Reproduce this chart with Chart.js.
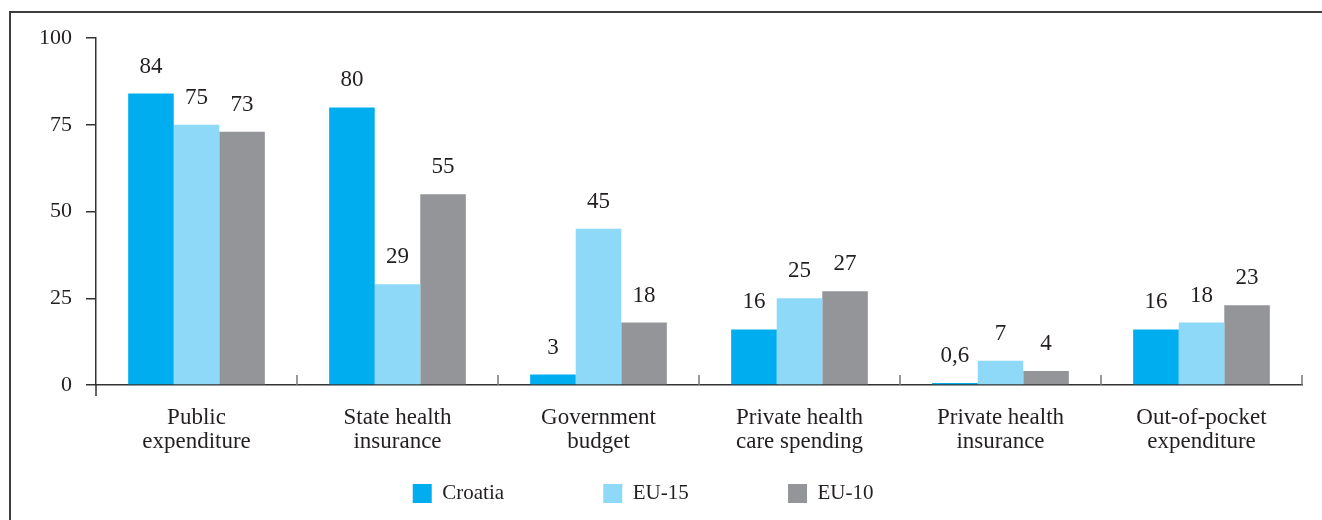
<!DOCTYPE html>
<html>
<head>
<meta charset="utf-8">
<script src="https://cdn.jsdelivr.net/npm/chart.js@4"></script>
<style>
html, body { margin: 0; padding: 0; background: #fff; overflow: hidden; }
#wrap { position: relative; width: 1322px; height: 520px; }
#frame { position: absolute; left: 9px; top: 11px; right: -10px; bottom: -10px;
         border-top: 2px solid #3d3d3d; border-left: 2px solid #3d3d3d; }
</style>
</head>
<body>
<div id="wrap">
  <canvas id="myChart" width="1322" height="520"></canvas>
  <div id="frame"></div>
</div>
<script>
var categories = [
    ['Public', 'expenditure'],
    ['State health', 'insurance'],
    ['Government', 'budget'],
    ['Private health', 'care spending'],
    ['Private health', 'insurance'],
    ['Out-of-pocket', 'expenditure']
];
var croatia = [84, 80, 3, 16, 0.6, 16];
var eu15 = [75, 29, 45, 25, 7, 18];
var eu10 = [73, 55, 18, 27, 4, 23];
var yTicks = [0, 25, 50, 75, 100];

var textColor = '#231f20';
var axisColor = '#333333';
var serif = '"Liberation Serif", "Times New Roman", serif';

// numbers printed above each bar, decimal comma as in the source
var valueLabels = {
    id: 'valueLabels',
    afterDatasetsDraw: function(chart) {
        var ctx = chart.ctx;
        ctx.save();
        ctx.font = '23px ' + serif;
        ctx.fillStyle = textColor;
        ctx.textAlign = 'center';
        ctx.textBaseline = 'alphabetic';
        chart.data.datasets.forEach(function(ds, i) {
            chart.getDatasetMeta(i).data.forEach(function(bar, j) {
                ctx.fillText(String(ds.data[j]).replace('.', ','), bar.x, bar.y - 21);
            });
        });
        ctx.restore();
    }
};

// small separators between the categories, standing up from the axis
var categoryTicks = {
    id: 'categoryTicks',
    afterDraw: function(chart) {
        var ctx = chart.ctx;
        var x = chart.scales.x;
        var y0 = chart.scales.y.getPixelForValue(0);
        var step = (x.right - x.left) / categories.length;
        ctx.save();
        ctx.lineWidth = 1.5;
        for (var i = 0; i <= categories.length; i++) {
            var px = x.left + i * step;
            ctx.strokeStyle = i === 0 ? axisColor : '#777777';
            ctx.beginPath();
            ctx.moveTo(px, i === 0 ? y0 + 11 : y0 - 10);
            ctx.lineTo(px, y0);
            ctx.stroke();
        }
        ctx.restore();
    }
};

// legend items sit far apart in the source; pad the label text
var spacers = ['                 ', '                 ', '   '];

var ctx = document.getElementById('myChart').getContext('2d');
var myChart = new Chart(ctx, {
    type: 'bar',
    data: {
        labels: categories,
        datasets: [{
            label: 'Croatia',
            data: croatia,
            backgroundColor: '#00aeef'
        }, {
            label: 'EU-15',
            data: eu15,
            backgroundColor: '#8ed8f8'
        }, {
            label: 'EU-10',
            data: eu10,
            backgroundColor: '#939598'
        }]
    },
    options: {
        responsive: false,
        animation: false,
        categoryPercentage: 0.68,
        barPercentage: 1.0,
        layout: {
            padding: { top: 38, right: 20, bottom: 6, left: 0 }
        },
        plugins: {
            tooltip: { enabled: false },
            legend: {
                position: 'bottom',
                labels: {
                    boxWidth: 19,
                    boxHeight: 19,
                    padding: 10,
                    color: textColor,
                    font: { family: serif, size: 21 },
                    generateLabels: function(chart) {
                        var items = Chart.defaults.plugins.legend.labels.generateLabels(chart);
                        items.forEach(function(it, i) {
                            it.text = it.text + spacers[i];
                        });
                        return items;
                    }
                }
            }
        },
        scales: {
            x: {
                grid: { display: false },
                border: { display: true, color: axisColor, width: 1.5 },
                ticks: {
                    color: textColor,
                    padding: 13,
                    maxRotation: 0,
                    font: { family: serif, size: 23, lineHeight: 1.05 }
                },
                afterFit: function(s) { s.height = 88; }
            },
            y: {
                min: 0,
                max: 100,
                afterBuildTicks: function(s) {
                    s.ticks = yTicks.map(function(v) { return { value: v }; });
                },
                grid: {
                    drawOnChartArea: false,
                    drawTicks: true,
                    tickLength: 10,
                    color: axisColor,
                    lineWidth: 1.5
                },
                border: { display: true, color: axisColor, width: 1.5 },
                ticks: {
                    color: textColor,
                    padding: 14,
                    font: { family: serif, size: 22 }
                },
                afterFit: function(s) { s.width = 96; }
            }
        }
    },
    plugins: [valueLabels, categoryTicks]
});
</script>
</body>
</html>
